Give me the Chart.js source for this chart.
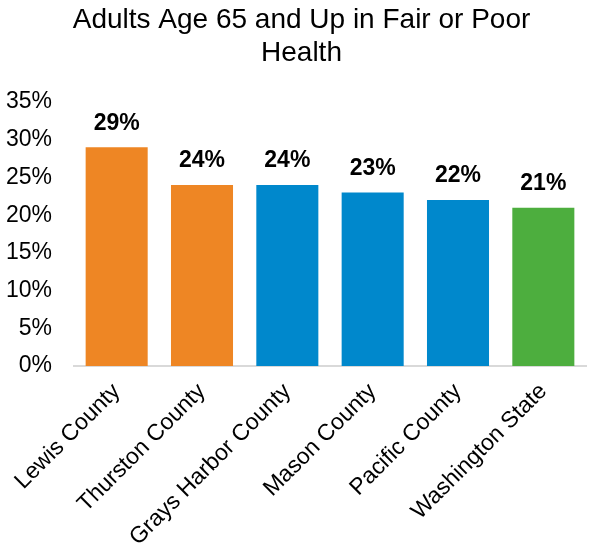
<!DOCTYPE html>
<html>
<head>
<meta charset="utf-8">
<script src="https://cdn.jsdelivr.net/npm/chart.js@4.4.0/dist/chart.umd.min.js"></script>
<style>
  html, body { margin: 0; padding: 0; background: #fff; }
  #wrap { width: 590px; height: 555px; }
</style>
</head>
<body>
<div id="wrap"><canvas id="chart" width="590" height="555"></canvas></div>
<script>
const categories = ['Lewis County', 'Thurston County', 'Grays Harbor County', 'Mason County', 'Pacific County', 'Washington State'];
const values = [29, 24, 24, 23, 22, 21];
const barColors = ['#EE8624', '#EE8624', '#0088CC', '#0088CC', '#0088CC', '#4DAE3E'];
const yTicks = [0, 5, 10, 15, 20, 25, 30, 35];

const FONT = "'Liberation Sans', Arial, sans-serif";

// draws the bold % labels above each bar
const valueLabels = {
  id: 'valueLabels',
  afterDatasetsDraw(chart) {
    const ctx = chart.ctx;
    const meta = chart.getDatasetMeta(0);
    ctx.save();
    ctx.font = 'bold 23px ' + FONT;
    ctx.fillStyle = '#000';
    ctx.textAlign = 'center';
    ctx.textBaseline = 'middle';
    meta.data.forEach((bar, i) => {
      ctx.fillText(values[i] + '%', bar.x, bar.y - 24);
    });
    ctx.restore();
  }
};

// the original title sits a bit right of the canvas centre
const titleNudge = {
  id: 'titleNudge',
  afterLayout(chart) {
    if (chart.titleBlock) chart.titleBlock.left += 17;
  }
};

new Chart(document.getElementById('chart').getContext('2d'), {
  type: 'bar',
  data: {
    labels: categories,
    datasets: [{
      data: values,
      backgroundColor: barColors,
      borderWidth: 0,
      barPercentage: 0.727,
      categoryPercentage: 1
    }]
  },
  options: {
    responsive: false,
    animation: false,
    layout: { padding: { left: 0, right: 4, top: 0, bottom: 0 } },
    plugins: {
      legend: { display: false },
      tooltip: { enabled: false },
      title: {
        display: true,
        text: ['Adults Age 65 and Up in Fair or Poor', 'Health'],
        color: '#000',
        font: { family: FONT, size: 28, weight: 'normal', lineHeight: 1.18 },
        padding: { top: 4, bottom: 32 }
      }
    },
    scales: {
      x: {
        grid: { display: false },
        border: { display: true, color: '#d9d9d9', width: 2 },
        ticks: {
          color: '#000',
          font: { family: FONT, size: 23 },
          minRotation: 45,
          maxRotation: 45,
          padding: 4
        },
        afterFit(scale) { scale.height = 189; }
      },
      y: {
        min: 0,
        max: 35,
        grid: { display: false, drawTicks: false },
        border: { display: false },
        afterBuildTicks(scale) { scale.ticks = yTicks.map(v => ({ value: v })); },
        ticks: {
          color: '#000',
          font: { family: FONT, size: 23 },
          padding: 22,
          callback: v => v + '%'
        },
        afterFit(scale) { scale.width = 74; }
      }
    }
  },
  plugins: [valueLabels, titleNudge]
});
</script>
</body>
</html>
